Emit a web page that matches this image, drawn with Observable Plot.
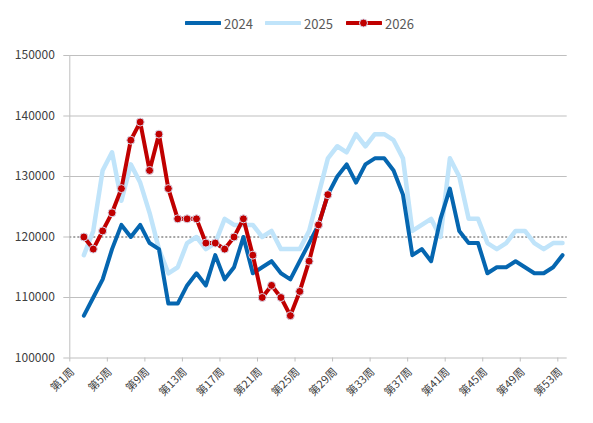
<!DOCTYPE html>
<html><head><meta charset="utf-8">
<script src="https://cdn.jsdelivr.net/npm/d3@7"></script>
<script src="https://cdn.jsdelivr.net/npm/@observablehq/plot@0.6"></script>
<style>
body{margin:0;background:#fff;width:593px;height:423px;overflow:hidden;font-family:"Noto Sans CJK SC","Noto Sans",sans-serif;}
#legend{position:relative;height:40px;width:593px;}
.item{position:absolute;top:14px;height:18px;display:flex;align-items:center;font-size:13px;color:#595959;}
.item svg{display:block;margin-right:3px;}
#chart svg{display:block;}
</style></head><body>
<div id="legend"></div>
<div id="chart"></div>
<script>
const seriesNames = ["2024", "2025", "2026"];
const seriesColors = ["#0566b0", "#c0e4fa", "#c00000"];
const startWeek = 2;
const v2024 = [107000,110000,113000,118000,122000,120000,122000,119000,118000,109000,109000,112000,114000,
  112000,117000,113000,115000,120000,114000,115000,116000,114000,113000,116000,
  119000,122000,127000,130000,132000,129000,132000,133000,133000,131000,127000,
  117000,118000,116000,123000,128000,121000,119000,119000,114000,115000,115000,116000,115000,114000,114000,115000,117000];
const v2025 = [117000,121000,131000,134000,126000,132000,129000,124000,118000,114000,115000,119000,120000,
  118000,119000,123000,122000,122000,122000,120000,121000,118000,118000,118000,
  121000,127000,133000,135000,134000,137000,135000,137000,137000,136000,133000,
  121000,122000,123000,120000,133000,130000,123000,123000,119000,118000,119000,121000,121000,119000,118000,119000,119000];
const v2026 = [120000,118000,121000,124000,128000,136000,139000,131000,137000,128000,123000,123000,123000,
  119000,119000,118000,120000,123000,117000,110000,112000,110000,107000,111000,116000,122000,127000];
const yTicks = [100000,110000,120000,130000,140000,150000];
const xLabelWeeks = [1,5,9,13,17,21,25,29,33,37,41,45,49,53];
const xTickBounds = [0.5,4.5,8.5,12.5,16.5,20.5,24.5,28.5,32.5,36.5,40.5,44.5,48.5,52.5];
const weekCount = 53;

const toRows = (vals, name) => vals.map((v, i) => ({week: startWeek + i, value: v, series: name}));
const r2024 = toRows(v2024, "2024");
const r2025 = toRows(v2025, "2025");
const r2026 = toRows(v2026, "2026");

const grid = "#bfbfbf";
const chart = Plot.plot({
  width: 593, height: 383,
  marginLeft: 69.3, marginRight: 26.3, marginTop: 15, marginBottom: 65.5,
  style: {background: "#fff", fontFamily: '"Noto Sans CJK SC","Noto Sans",sans-serif'},
  x: {domain: [0.5, weekCount + 0.5], axis: null},
  y: {domain: [yTicks[0], yTicks[yTicks.length - 1]], axis: null},
  marks: [
    Plot.ruleY(yTicks.filter(t => t !== 100000 && t !== 120000), {stroke: grid, strokeWidth: 1}),
    Plot.ruleY([120000], {stroke: "#a6a6a6", strokeWidth: 2, strokeDasharray: "2,2"}),
    Plot.ruleX([0.5], {stroke: grid}),
    Plot.ruleY([100000], {stroke: grid}),
    Plot.axisY({ticks: yTicks, tickSize: 6, tickPadding: 9, tickFormat: d => String(d), stroke: grid, fill: "#404040", fontSize: 12, label: null}),
    Plot.axisX({ticks: xTickBounds, tickSize: 4, tickFormat: () => "", stroke: grid, label: null}),
    Plot.text(xLabelWeeks, {x: d => d, y: () => 100000, text: d => `第${d}周`, rotate: -45, textAnchor: "end", dx: -2, dy: 12, fill: "#404040", fontSize: 11}),
    Plot.line(r2025, {x: "week", y: "value", stroke: seriesColors[1], strokeWidth: 4.5}),
    Plot.line(r2024, {x: "week", y: "value", stroke: seriesColors[0], strokeWidth: 4}),
    Plot.line(r2026, {x: "week", y: "value", stroke: seriesColors[2], strokeWidth: 4}),
    Plot.dot(r2026, {x: "week", y: "value", r: 4, fill: seriesColors[2], stroke: "#d8d8ec", strokeWidth: 1})
  ]
});
document.getElementById("chart").appendChild(chart);

// legend
const legendX = [185, 265, 346];
const legend = document.getElementById("legend");
seriesNames.forEach((name, i) => {
  const item = document.createElement("div");
  item.className = "item";
  item.style.left = legendX[i] + "px";
  const marker = i === 2
    ? `<circle cx="17.5" cy="9" r="4" fill="${seriesColors[i]}" stroke="#d8d8ec" stroke-width="1"/>`
    : "";
  item.innerHTML = `<svg width="36" height="18"><line x1="1" x2="35" y1="9" y2="9" stroke="${seriesColors[i]}" stroke-width="4" stroke-linecap="round"/>${marker}</svg><span>${name}</span>`;
  legend.appendChild(item);
});
</script>
</body></html>
